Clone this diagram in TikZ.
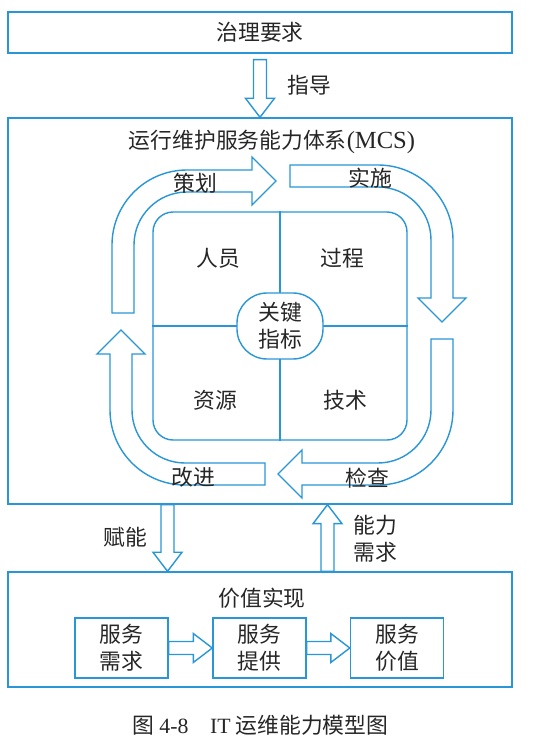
\documentclass[tikz,border=0pt]{standalone}
\usepackage{fontspec}
\setmainfont{Noto Sans CJK SC}
\newfontfamily\latinfont{Liberation Serif}
\usetikzlibrary{calc}

\definecolor{itblue}{RGB}{40,150,215}
\tikzset{
  box/.style={draw=itblue, line width=0.8pt, inner sep=0pt, text=black!85},
  ln/.style={draw=itblue, line width=0.8pt},
  blk/.style={draw=itblue, line width=0.8pt, fill=white, line join=miter},
  lbl/.style={text=black!85, inner sep=0pt, align=center}
}
\newcommand{\blkarrow}[2]{%
  \coordinate (hb) at ($(#2)!0.38cm!(#1)$);
  \draw[blk] ($(#1)!0.13cm!90:(#2)$) -- ($(hb)!0.13cm!-90:(#1)$) -- ($(hb)!0.29cm!-90:(#1)$)
    -- (#2) -- ($(hb)!0.29cm!90:(#1)$) -- ($(hb)!0.13cm!90:(#1)$) -- ($(#1)!0.13cm!-90:(#2)$) -- cycle;
}

\begin{document}
\begin{tikzpicture}[font=\fontsize{12.4}{15.5}\selectfont]
  \useasboundingbox (0,0) rectangle (11.16,15);

  \node[box, minimum width=10.08cm, minimum height=0.82cm] (gov) at (5.2,14.35) {治理要求};
  \node[box, minimum width=10.08cm, minimum height=7.72cm] (mcs) at (5.2,8.78) {};
  \node[box, minimum width=10.08cm, minimum height=2.3cm] (val) at (5.2,2.41) {};

  \node[lbl] (mcst) at (5.44,12.16) {运行维护服务能力体系{\latinfont\fontsize{14}{15}\selectfont(MCS)}};
  \node[lbl] (valt) at (5.24,3.04) {价值实现};

  \coordinate (g1) at ($(gov.south)+(0,-0.12)$);
  \blkarrow{g1}{mcs.north}
  \node[lbl] (guide) at (6.18,13.3) {指导};

  \coordinate (en) at (3.35,0);
  \coordinate (en1) at (mcs.south -| en);
  \coordinate (en2) at (val.north -| en);
  \blkarrow{en1}{en2}
  \node[lbl] (enable) at (2.5,4.26) {赋能};

  \coordinate (dm) at (6.55,0);
  \coordinate (dm1) at (val.north -| dm);
  \coordinate (dm2) at (mcs.south -| dm);
  \blkarrow{dm1}{dm2}
  \node[lbl] (demand) at (7.5,4.23) {能力\\需求};

  \node[box, rounded corners=0.4cm, minimum width=5.08cm, minimum height=4.56cm] (core) at (5.6,8.48) {};
  \draw[ln] (core.north) -- (core.south);
  \draw[ln] (core.west) -- (core.east);
  \node[box, fill=white, rounded corners=0.6cm, minimum width=1.72cm, minimum height=1.32cm, align=center] (kpi) at (core.center) {关键\\指标};

  \foreach \n/\x/\y/\t in {pe/4.36/9.84/人员, pr/6.84/9.84/过程, re/4.3/7.0/资源, te/6.9/7.0/技术}
    \node[lbl] (\n) at (\x,\y) {\t};

  \draw[blk] (2.24,8.74) -- (2.24,10.1) arc[start angle=180, end angle=90, radius=1.5] -- (5.04,11.6) -- (5.04,11.86)
    -- (5.52,11.38) -- (5.04,10.9) -- (5.04,11.16) -- (3.74,11.16) arc[start angle=90, end angle=180, radius=1.06] -- (2.68,8.74) -- cycle;
  \draw[blk] (5.8,11.7) -- (7.56,11.7) arc[start angle=90, end angle=0, radius=1.5] -- (9.06,9.04) -- (9.32,9.04)
    -- (8.84,8.56) -- (8.36,9.04) -- (8.62,9.04) -- (8.62,10.2) arc[start angle=0, end angle=90, radius=1.06] -- (5.8,11.26) -- cycle;
  \draw[blk] (8.62,8.22) -- (9.06,8.22) -- (9.06,6.8) arc[start angle=0, end angle=-90, radius=1.5] -- (6.04,5.3) -- (6.04,5.04)
    -- (5.56,5.52) -- (6.04,6.0) -- (6.04,5.74) -- (7.56,5.74) arc[start angle=-90, end angle=0, radius=1.06] -- cycle;
  \draw[blk] (5.3,5.74) -- (5.3,5.3) -- (3.7,5.3) arc[start angle=270, end angle=180, radius=1.5] -- (2.2,7.92) -- (1.94,7.92)
    -- (2.42,8.4) -- (2.9,7.92) -- (2.64,7.92) -- (2.64,6.8) arc[start angle=180, end angle=270, radius=1.06] -- cycle;

  \foreach \n/\x/\y/\t in {plan/3.9/11.34/策划, do/7.4/11.44/实施, check/7.34/5.44/检查, act/3.86/5.46/改进}
    \node[lbl] (\n) at (\x,\y) {\t};

  \foreach \n/\x/\t in {s1/2.43/需求, s2/5.19/提供, s3/7.94/价值}
    \node[box, minimum width=1.86cm, minimum height=1.2cm, align=center] (\n) at (\x,2.04) {服务\\\t};
  \blkarrow{s1.east}{s2.west}
  \blkarrow{s2.east}{s3.west}

  \node[lbl] (cap) at (5.21,0.5) {图 {\latinfont 4-8}\quad {\latinfont IT} 运维能力模型图};
\end{tikzpicture}
\end{document}
